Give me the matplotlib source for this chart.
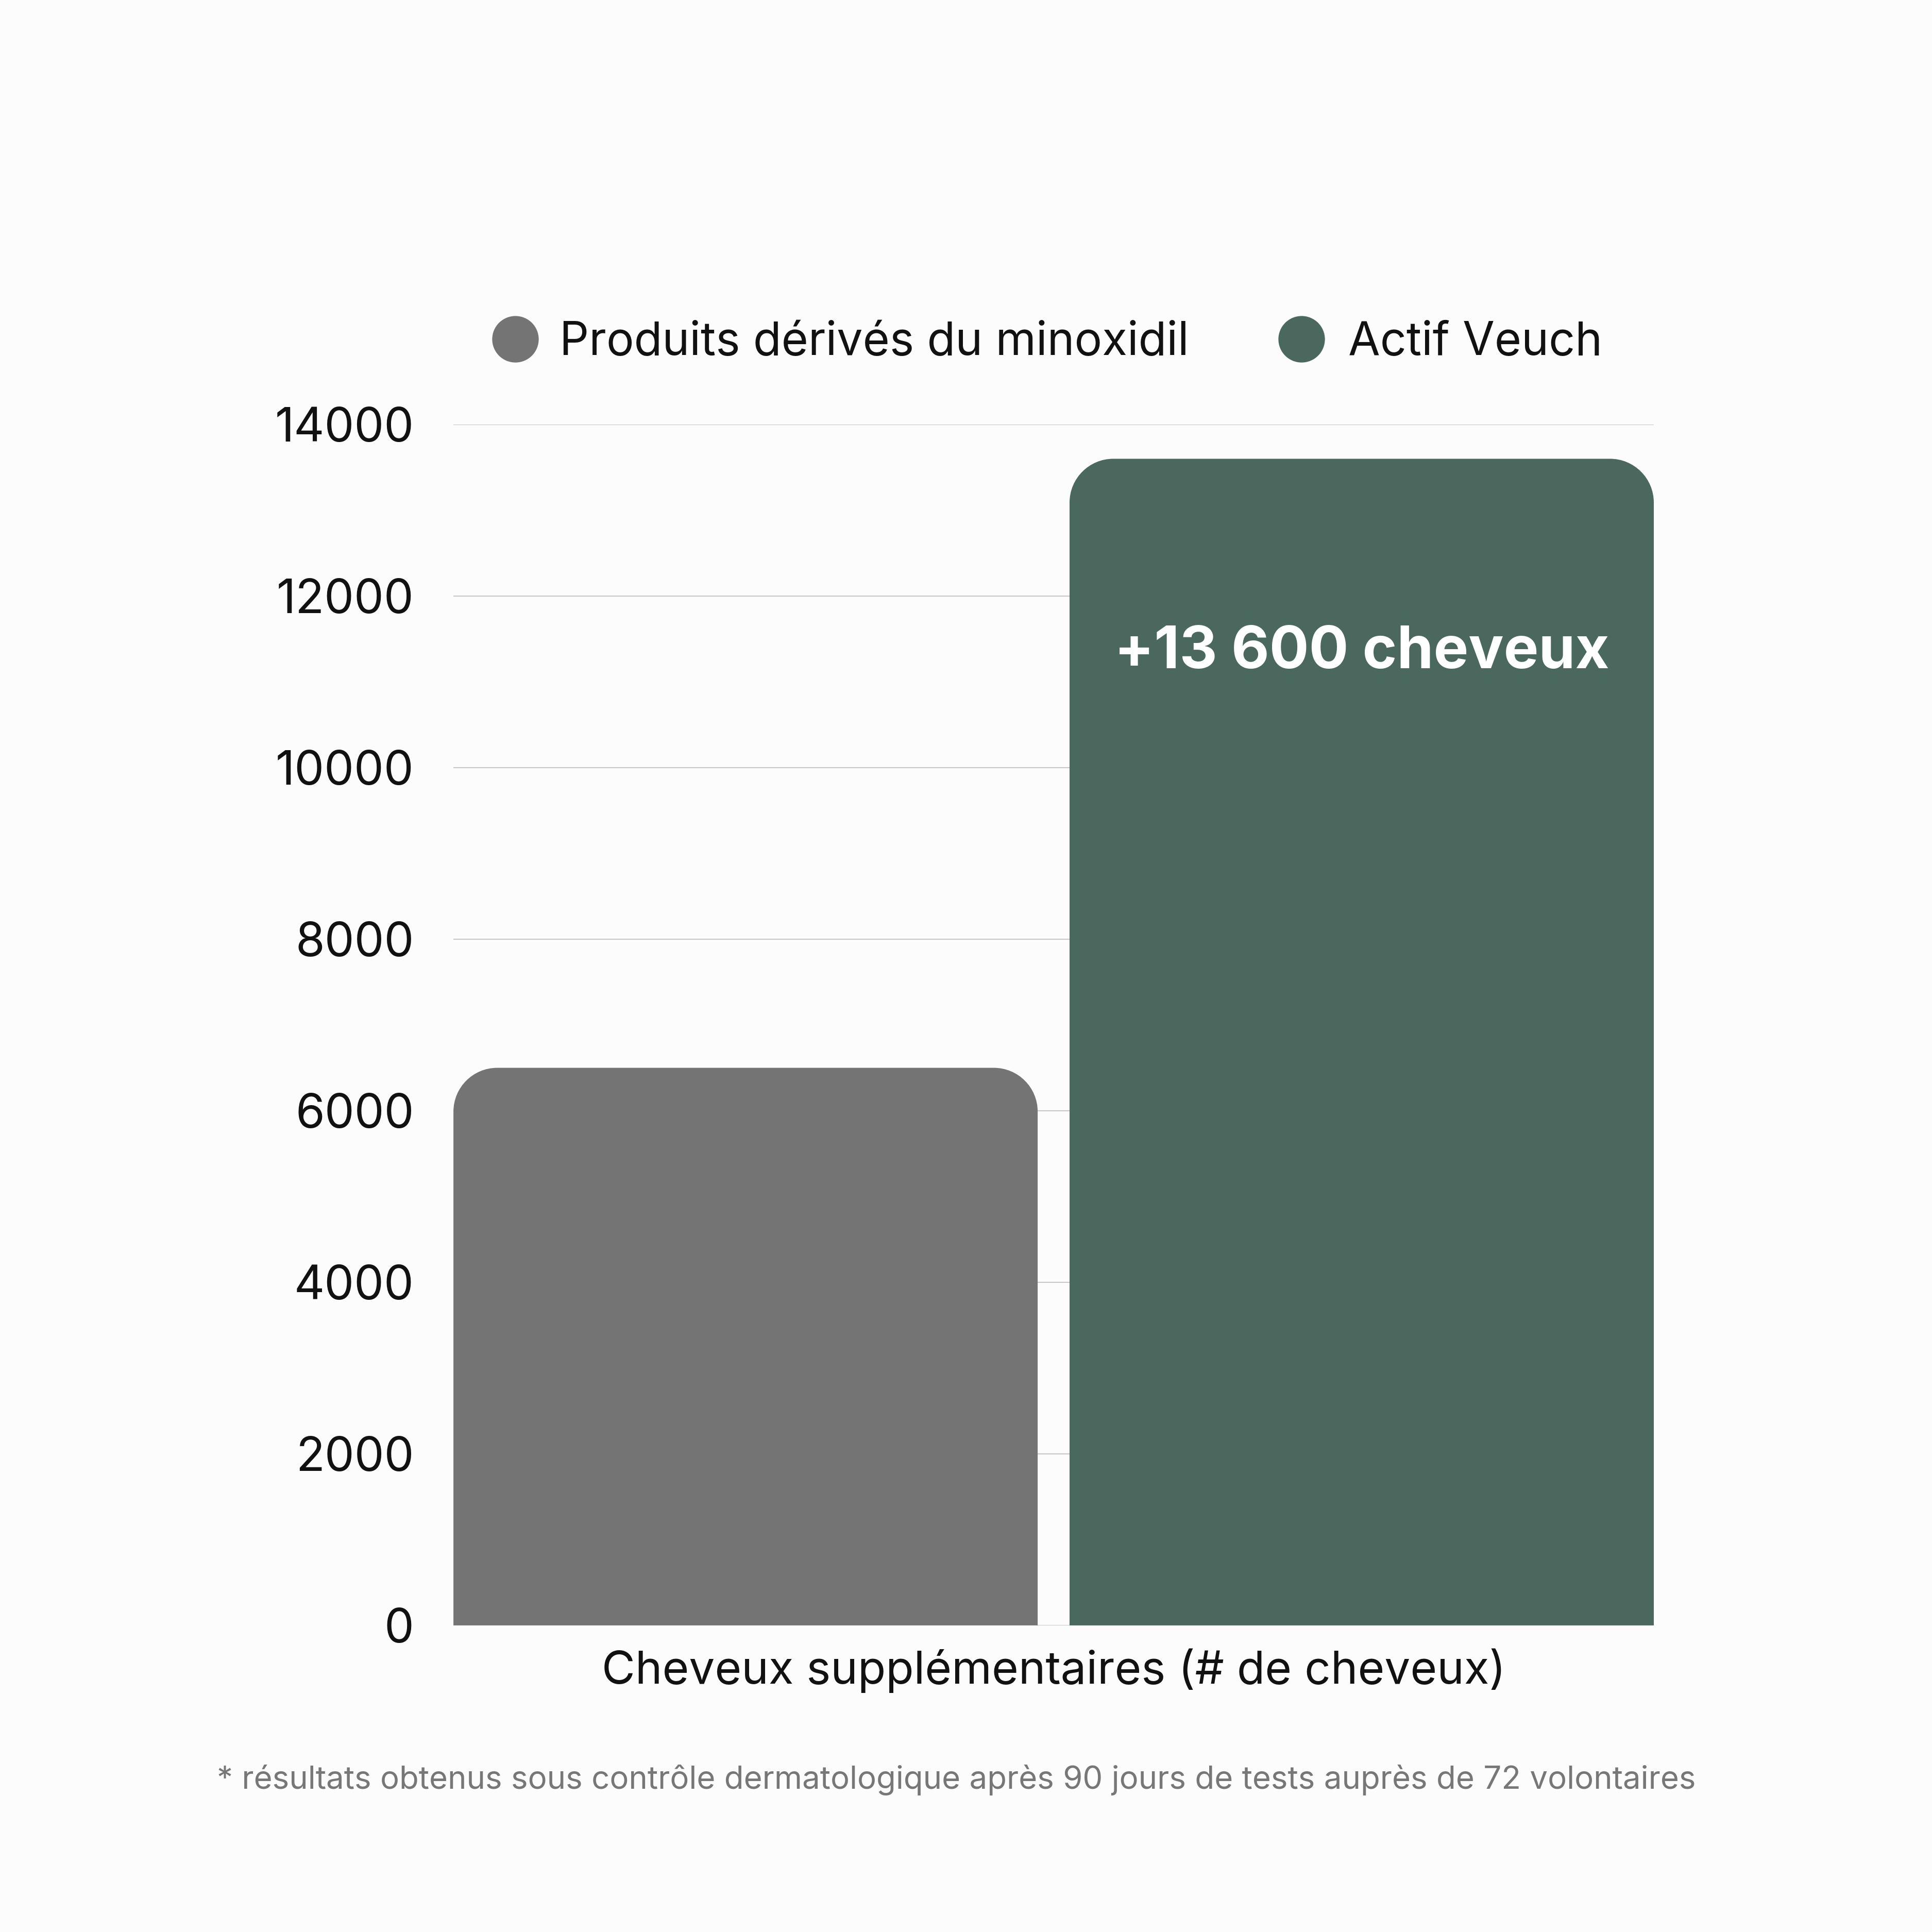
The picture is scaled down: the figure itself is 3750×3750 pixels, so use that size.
import matplotlib
matplotlib.use('Agg')
import matplotlib.pyplot as plt
from matplotlib.path import Path
from matplotlib.patches import PathPatch
from matplotlib.lines import Line2D
from matplotlib.transforms import IdentityTransform

series = ['Produits dérivés du minoxidil', 'Actif Veuch']
values = [6500, 13600]
colors = ['#747474', '#4b685e']
category = 'Cheveux supplémentaires (# de cheveux)'
yticks = [0, 2000, 4000, 6000, 8000, 10000, 12000, 14000]
annotation = '+13 600 cheveux'
footnote = ('* résultats obtenus sous contrôle dermatologique après '
            '90 jours de tests auprès de 72 volontaires')

plt.rcParams['font.family'] = ['Inter', 'DejaVu Sans']
bg = '#fcfcfc'

fig = plt.figure(figsize=(37.5, 37.5), dpi=100, facecolor=bg)
ax = fig.add_axes([0.2347, 0.1587, 0.6213, 0.6216])
ax.set_facecolor(bg)

gap = 0.0546
xs = [0, 1 + gap]
bars = ax.bar(xs, values, width=1.0, color=colors, zorder=2)
ax.set_xlim(-0.5, 1.5 + gap)
ax.set_ylim(0, 14000)
ax.set_yticks(yticks)
ax.set_yticklabels([str(t) for t in yticks])
ax.tick_params(axis='y', length=0, pad=55, labelsize=66, labelcolor='#111111')
ax.set_xticks([])
for s in ax.spines.values():
    s.set_visible(False)
ax.grid(axis='y', color='#c8c8c8', linewidth=1.5)
ax.set_axisbelow(True)


def round_top(rect, r=85):
    # rebuild the bar in pixel space with rounded top corners
    x, y = rect.get_xy()
    w, h = rect.get_width(), rect.get_height()
    (x0, y0), (x1, y1) = ax.transData.transform([(x, y), (x + w, y + h)])
    k = 0.5523 * r
    verts = [(x0, y0), (x0, y1 - r),
             (x0, y1 - r + k), (x0 + r - k, y1), (x0 + r, y1),
             (x1 - r, y1),
             (x1 - r + k, y1), (x1, y1 - r + k), (x1, y1 - r),
             (x1, y0), (x0, y0)]
    codes = [Path.MOVETO, Path.LINETO,
             Path.CURVE4, Path.CURVE4, Path.CURVE4,
             Path.LINETO,
             Path.CURVE4, Path.CURVE4, Path.CURVE4,
             Path.LINETO, Path.CLOSEPOLY]
    p = PathPatch(Path(verts, codes), facecolor=rect.get_facecolor(),
                  edgecolor='none', transform=IdentityTransform(), zorder=2)
    ax.add_patch(p)
    rect.set_visible(False)


for b in bars:
    round_top(b)

ax.annotate(annotation, xy=(xs[1], values[1]), xytext=(0, -293),
            textcoords='offset points', ha='center', va='baseline',
            fontsize=82, fontweight='bold', color='white', zorder=3)

# legend
leg_x = [0.2667, 0.6736]
txt_x = [0.2896, 0.6979]
for cx, tx, lab, c in zip(leg_x, txt_x, series, colors):
    fig.add_artist(Line2D([cx], [0.8245], marker='o', markersize=65,
                          markerfacecolor=c, markeredgecolor='none',
                          linestyle='none', transform=fig.transFigure))
    fig.text(tx, 0.8163, lab, fontsize=64.5, color='#111111', va='baseline')

fig.text(0.5453, 0.1285, category, fontsize=64, color='#111111',
         ha='center', va='baseline')
fig.text(0.495, 0.0741, footnote, fontsize=44.5, color='#777777',
         ha='center', va='baseline')

fig.savefig('out.png', dpi=100, facecolor=bg)
